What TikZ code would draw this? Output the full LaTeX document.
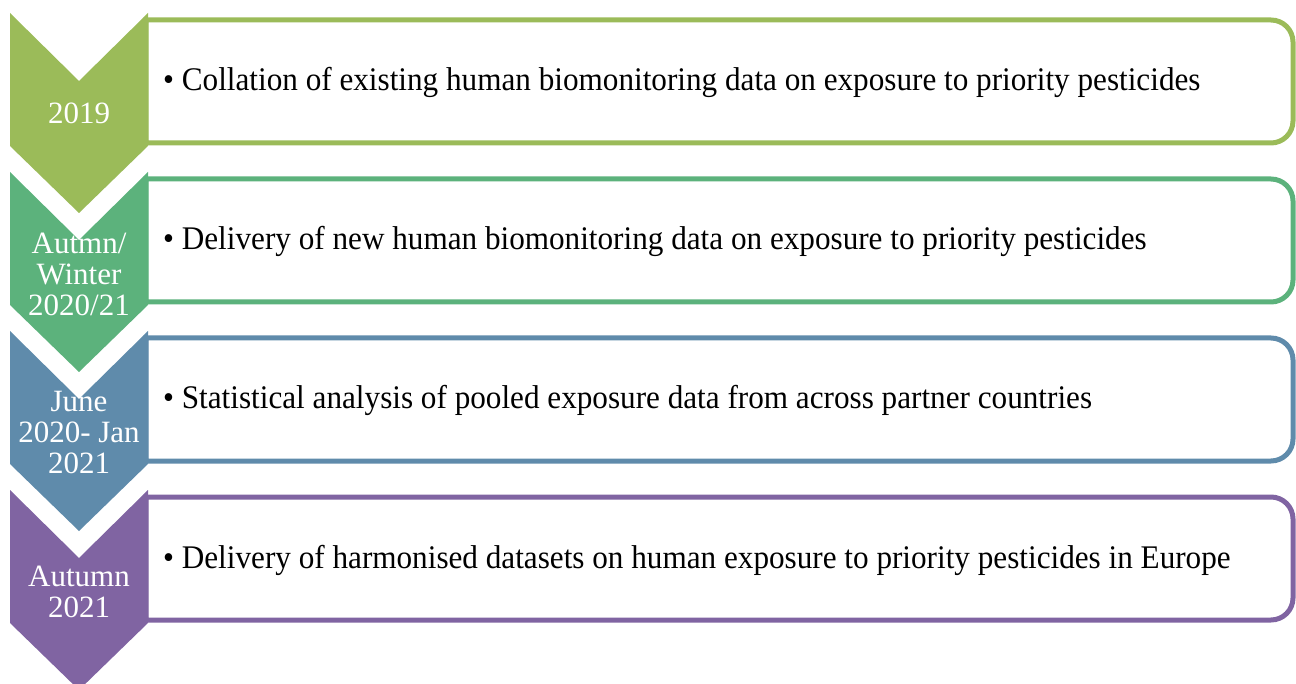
\documentclass[tikz,border=0pt]{standalone}
\usepackage{fontspec}
\setmainfont{Liberation Serif}
\newfontfamily\itemfont[FakeStretch=0.945]{Liberation Serif}
\definecolor{stepA}{HTML}{9BBB59}
\definecolor{stepB}{HTML}{5CB27C}
\definecolor{stepC}{HTML}{5F8BAB}
\definecolor{stepD}{HTML}{8064A2}
\begin{document}
\begin{tikzpicture}[x=1pt,y=-1pt,
  panel/.style={draw=#1,line width=5pt,fill=white},
  chev/.style={fill=#1,draw=none},
  datelabel/.style={text=white,align=center,font=\fontsize{31}{31}\selectfont,inner sep=0pt},
  itemtext/.style={anchor=base west,font=\itemfont\fontsize{33}{38}\selectfont,inner sep=0pt}]
\useasboundingbox (0,0) rectangle (1296,684);
% one row: rounded panel on the right, chevron on the left
\foreach \T/\c in {13/stepA,172/stepB,331/stepC,490/stepD}{
  \draw[panel=\c] (146,\T+7) [rounded corners=22pt] -- (1293,\T+7) -- (1293,\T+130)
      [sharp corners] -- (146,\T+130) -- cycle;
  \fill[chev=\c] (10,\T) -- (79,\T+68) -- (148,\T) -- (148,\T+133)
      -- (79,\T+200) -- (10,\T+133) -- cycle;
}
% dates in the chevrons
\node[datelabel] (d1) at (79,113) {2019};
\node[datelabel] (d2) at (79,274) {Autmn/\\Winter\\2020/21};
\node[datelabel] (d3) at (79,433) {June\\2020- Jan\\2021};
\node[datelabel] (d4) at (79,592) {Autumn\\2021};
% tasks in the panels
\node[itemtext] (t1) at (163,91) {• Collation of existing human biomonitoring data on exposure to priority pesticides};
\node[itemtext] (t2) at (163,250) {• Delivery of new human biomonitoring data on exposure to priority pesticides};
\node[itemtext] (t3) at (163,409) {• Statistical analysis of pooled exposure data from across partner countries};
\node[itemtext] (t4) at (163,568) {• Delivery of harmonised datasets on human exposure to priority pesticides in Europe};
\end{tikzpicture}
\end{document}
